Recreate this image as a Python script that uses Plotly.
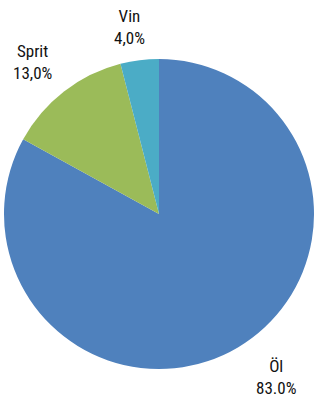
import plotly.graph_objects as go

categories = ["Öl", "Sprit", "Vin"]
values = [83.0, 13.0, 4.0]
pct_labels = ["83.0%", "13,0%", "4,0%"]
colors = ["#4F81BD", "#9BBB59", "#4BACC6"]

W, H = 314, 398
cx, cy, r = 160, 214, 156

fig = go.Figure(go.Pie(
    labels=categories,
    values=values,
    sort=False,
    direction="clockwise",
    rotation=0,
    marker=dict(colors=colors, line=dict(width=0)),
    textinfo="none",
    hoverinfo="label+percent",
    domain=dict(x=[(cx - r) / W, min(1.0, (cx + r) / W)],
                y=[(H - cy - r) / H, (H - cy + r) / H]),
    showlegend=False,
))

label_pos = {"Öl": (276, 377), "Sprit": (32, 62), "Vin": (129, 27)}
font = dict(family="Liberation Sans Narrow, Roboto Condensed, DejaVu Sans Condensed, Arial Narrow, sans-serif",
            size=17, color="#111111")
for cat, pct in zip(categories, pct_labels):
    x, y = label_pos[cat]
    fig.add_annotation(x=x / W, y=1 - y / H, xref="paper", yref="paper",
                       text=f"{cat}<br>{pct}", showarrow=False, font=font,
                       align="center", xanchor="center", yanchor="middle")

fig.update_layout(width=W, height=H, margin=dict(l=0, r=0, t=0, b=0),
                  paper_bgcolor="white", plot_bgcolor="white")
fig.write_html("out.html", config={"displayModeBar": False},
               post_script="document.body.style.margin='0';document.body.style.overflow='hidden';")
